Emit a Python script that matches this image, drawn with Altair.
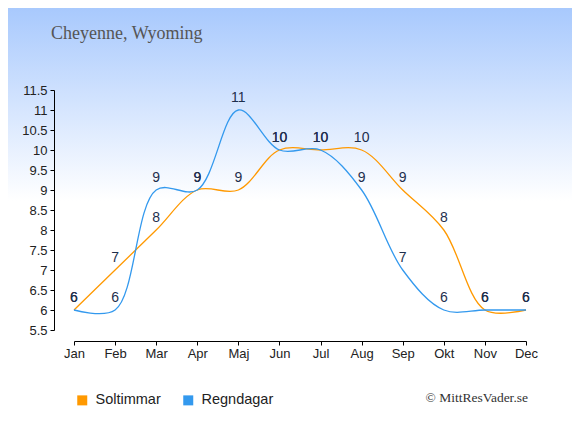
import altair as alt
import pandas as pd

months = ["Jan", "Feb", "Mar", "Apr", "Maj", "Jun", "Jul", "Aug", "Sep", "Okt", "Nov", "Dec"]
soltimmar = [6, 7, 8, 9, 9, 10, 10, 10, 9, 8, 6, 6]
regndagar = [6, 6, 9, 9, 11, 10, 10, 9, 7, 6, 6, 6]
series_names = ["Soltimmar", "Regndagar"]
series_colors = ["#ff9900", "#3399ee"]
y_ticks = [5.5, 6, 6.5, 7, 7.5, 8, 8.5, 9, 9.5, 10, 10.5, 11, 11.5]
title_text = "Cheyenne, Wyoming"
credit_text = "© MittResVader.se"

rows = []
for name, vals in zip(series_names, [soltimmar, regndagar]):
    for i, (m, v) in enumerate(zip(months, vals)):
        rows.append({"month": m, "value": v, "series": name, "order": i})
df = pd.DataFrame(rows)

W, H = 452, 240
PL, PT, PR, PB = 66, 82, 46, 97

gradient = alt.LinearGradient(
    gradient="linear",
    stops=[
        alt.GradientStop(color="#a8c9fd", offset=0),
        alt.GradientStop(color="#ffffff", offset=0.46),
        alt.GradientStop(color="#ffffff", offset=1),
    ],
    x1=0, x2=0, y1=0, y2=1,
)

bg = alt.Chart(alt.Data(values=[{}])).mark_rect(fill=gradient).encode(
    x=alt.value(-PL), x2=alt.value(W + PR), y=alt.value(-PT), y2=alt.value(H + PB)
)

x_enc = alt.X(
    "month:O",
    sort=months,
    scale=alt.Scale(domain=months, padding=0),
    axis=alt.Axis(
        title=None, labelAngle=0, offset=11, tickSize=4, labelPadding=2,
        domainColor="#000", tickColor="#000", labelColor="#222",
        labelFont="Liberation Sans", labelFontSize=13, grid=False, zindex=2,
        labelOverlap=False,
    ),
)
y_enc = alt.Y(
    "value:Q",
    scale=alt.Scale(domain=[5.5, 11.5], nice=False, zero=False),
    axis=alt.Axis(
        title=None, values=y_ticks, labelExpr="'' + datum.value", offset=20,
        tickSize=4, labelPadding=3, labelOverlap=False,
        domainColor="#000", tickColor="#000", labelColor="#222",
        labelFont="Liberation Sans", labelFontSize=13, grid=False, zindex=2,
    ),
)
color_enc = alt.Color(
    "series:N",
    scale=alt.Scale(domain=series_names, range=series_colors),
    legend=alt.Legend(
        title=None, orient="none", legendX=1, legendY=303, direction="horizontal",
        symbolType="square", symbolSize=25, symbolStrokeWidth=5, symbolOpacity=1,
        labelFont="Liberation Sans", labelFontSize=14.5, labelColor="#222",
        labelOffset=6, columnPadding=14, padding=0, zindex=2,
    ),
)

lines = alt.Chart(df).mark_line(interpolate="catmull-rom", strokeWidth=1.3).encode(
    x=x_enc, y=y_enc, color=color_enc, order="order:Q"
)

labels = alt.Chart(df).mark_text(
    dy=-8, baseline="alphabetic", align="center",
    font="Liberation Sans", fontSize=14, color="#1e2f4d",
).encode(x=x_enc, y=y_enc, text="value:Q")

title = alt.Chart(alt.Data(values=[{"t": title_text}])).mark_text(
    align="left", baseline="alphabetic", font="Liberation Serif", fontSize=18, color="#555555"
).encode(x=alt.value(51 - 74), y=alt.value(38.5 - 90), text="t:N")

credit = alt.Chart(alt.Data(values=[{"t": credit_text}])).mark_text(
    align="right", baseline="alphabetic", font="Liberation Serif", fontSize=13.5, color="#333333"
).encode(x=alt.value(528 - 74), y=alt.value(402 - 90), text="t:N")

chart = alt.layer(bg, lines, labels, title, credit).properties(
    width=W, height=H,
    autosize=alt.AutoSizeParams(type="none"),
    padding={"left": PL, "top": PT, "right": PR, "bottom": PB},
).configure_view(stroke=None).configure(background="#ffffff")

chart.save("out.html", embed_options={"renderer": "svg", "actions": False})
